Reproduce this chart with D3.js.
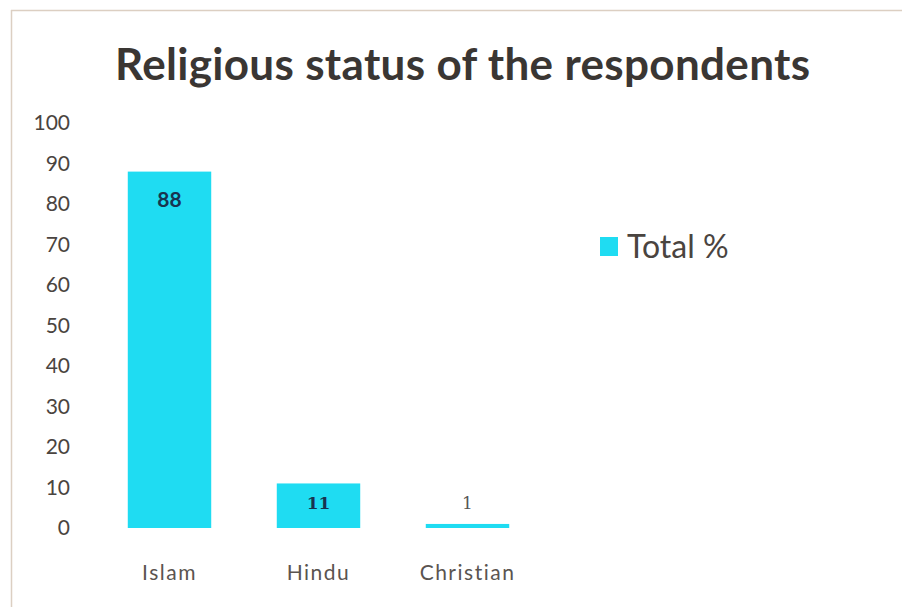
<!DOCTYPE html>
<html>
<head>
<meta charset="utf-8">
<script src="https://cdn.jsdelivr.net/npm/d3@7"></script>
<style>
  html, body { margin: 0; padding: 0; background: #fff; }
  svg { display: block; }
</style>
</head>
<body>
<svg id="chart" width="902" height="607"></svg>
<script>
// Religious status of respondents, share of total (%)
const categories = ["Islam", "Hindu", "Christian"];
const totalPct = [88, 11, 1];
const yTicks = [0, 10, 20, 30, 40, 50, 60, 70, 80, 90, 100];
const seriesName = "Total %";

const svg = d3.select("#chart");
const barColor = "#1fdcf2";
const textColor = "#4a4440";
const labelFont = "Lato, 'Open Sans', sans-serif";

// chart frame (top and left edges)
svg.append("line").attr("x1", 11).attr("x2", 902).attr("y1", 10.5).attr("y2", 10.5)
  .attr("stroke", "#dccfc2").attr("stroke-width", 1.5);
svg.append("line").attr("x1", 11.5).attr("x2", 11.5).attr("y1", 10).attr("y2", 607)
  .attr("stroke", "#dccfc2").attr("stroke-width", 1.5);

// title
svg.append("text")
  .attr("x", 115).attr("y", 80)
  .attr("font-family", labelFont)
  .attr("font-weight", "bold")
  .attr("font-size", 44)
  .attr("textLength", 695)
  .attr("lengthAdjust", "spacing")
  .attr("fill", "#3a3633")
  .text("Religious status of the respondents");

const x = d3.scaleBand().domain(categories).range([95, 542]).paddingInner(0.44).paddingOuter(0.22);
const y = d3.scaleLinear().domain([0, 100]).range([528, 123]);

// y axis (labels only)
const yAxis = svg.append("g").attr("transform", "translate(70,0)")
  .call(d3.axisLeft(y).tickValues(yTicks).tickSize(0).tickPadding(0));
yAxis.select(".domain").remove();
yAxis.selectAll("text")
  .attr("font-family", labelFont)
  .attr("font-size", 21)
  .attr("fill", textColor);

// x axis (labels only)
const xAxis = svg.append("g").attr("transform", "translate(0,565)")
  .call(d3.axisBottom(x).tickSize(0).tickPadding(0));
xAxis.select(".domain").remove();
xAxis.selectAll("text")
  .attr("font-family", labelFont)
  .attr("font-size", 21)
  .attr("letter-spacing", 1.5)
  .attr("fill", "#5a5450");

// bars
const data = categories.map((c, i) => ({ cat: c, v: totalPct[i] }));
const bw = x.bandwidth();
svg.append("g").selectAll("rect").data(data).join("rect")
  .attr("x", d => x(d.cat))
  .attr("y", d => y(d.v))
  .attr("width", bw)
  .attr("height", d => Math.max(3, y(0) - y(d.v)))
  .attr("fill", barColor);

// value labels: inside the bar end when it fits, otherwise just above
svg.append("g").selectAll("text").data(data).join("text")
  .attr("x", d => x(d.cat) + bw / 2)
  .attr("y", d => d.v > 50 ? y(d.v) + 35 : d.v > 5 ? y(d.v) + 26 : y(d.v) - 15)
  .attr("text-anchor", "middle")
  .attr("font-family", d => d.v > 50 ? labelFont : "'DejaVu Serif', 'Liberation Serif', serif")
  .attr("font-weight", d => d.v > 5 ? "bold" : "normal")
  .attr("font-size", d => d.v > 50 ? 21 : 17)
  .attr("fill", d => d.v > 5 ? "#183450" : "#555")
  .text(d => d.v);

// legend
const lg = svg.append("g").attr("transform", "translate(600,237)");
lg.append("rect").attr("width", 18).attr("height", 19).attr("fill", barColor);
lg.append("text").attr("x", 27).attr("y", 21)
  .attr("font-family", labelFont)
  .attr("font-size", 32)
  .attr("fill", textColor)
  .text(seriesName);
</script>
</body>
</html>
